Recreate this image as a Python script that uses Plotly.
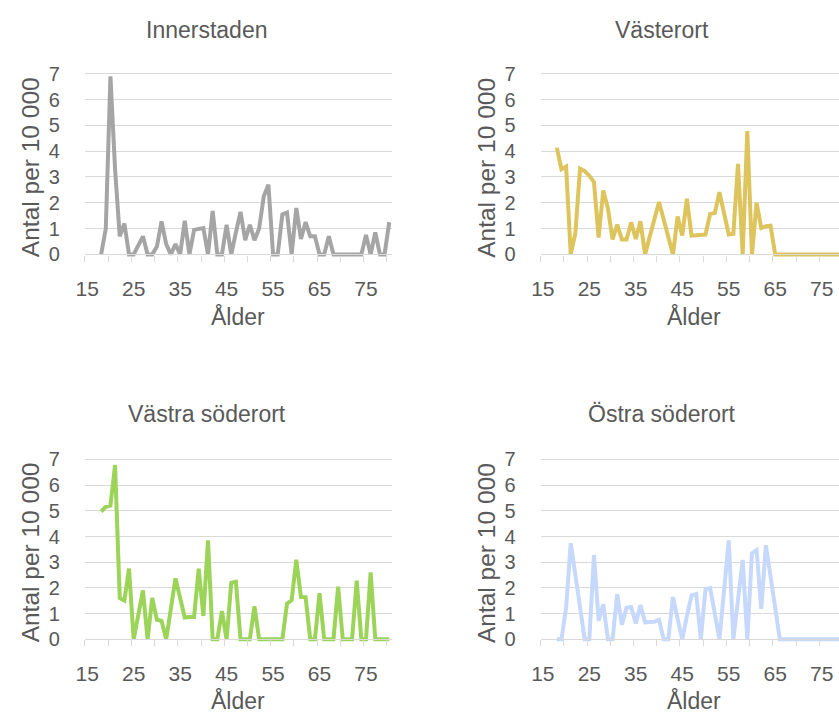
import plotly.graph_objects as go
from plotly.subplots import make_subplots

# ålder 18-80
ages = list(range(18, 81))

innerstaden = [0, 1.0, 6.9, 3.3, 0.7, 1.2, 0, 0, 0.35, 0.7,
               0, 0, 0.3, 1.28, 0.4, 0, 0.4, 0, 1.3, 0,
               0.95, 1.0, 1.02, 0, 1.68, 0, 0, 1.15, 0, 0.85,
               1.65, 0.55, 1.15, 0.55, 1.0, 2.25, 2.7, 0, 0, 1.55,
               1.62, 0, 1.8, 0.6, 1.25, 0.7, 0.7, 0, 0, 0.7,
               0, 0, 0, 0, 0, 0, 0, 0.75, 0, 0.85,
               0, 0, 1.25]

vasterort = [4.14, 3.3, 3.4, 0, 0.83, 3.32, 3.23, 3.05, 2.8, 0.65,
             2.48, 1.78, 0.58, 1.15, 0.58, 0.58, 1.24, 0.6, 1.28, 0,
             0.68, 1.35, 2.03, 1.35, 0.68, 0, 1.47, 0.73, 2.16, 0.73,
             0.74, 0.75, 0.77, 1.57, 1.6, 2.41, 1.6, 0.77, 0.8, 3.51,
             0, 4.78, 0, 2.0, 1.02, 1.09, 1.11, 0, 0, 0,
             0, 0, 0, 0, 0, 0, 0, 0, 0, 0,
             0, 0, 0]

vastra_soderort = [4.97, 5.16, 5.2, 6.78, 1.61, 1.51, 2.75, 0, 0.95, 1.9,
                   0, 1.61, 0.76, 0.72, 0, 1.2, 2.37, 1.61, 0.85, 0.87,
                   0.87, 2.75, 0.91, 3.85, 0, 0, 1.1, 0, 2.2, 2.24,
                   0, 0, 0, 1.29, 0, 0, 0, 0, 0, 0,
                   1.39, 1.52, 3.1, 1.65, 1.64, 0, 0, 1.79, 0, 0,
                   0, 2.05, 0, 0, 0, 2.28, 0, 0, 2.6, 0,
                   0, 0, 0]

ostra_soderort = [0, 0, 1.23, 3.74, 2.5, 1.25, 0, 0, 3.28, 0.72,
                  1.36, 0, 0, 1.76, 0.57, 1.23, 1.26, 0.62, 1.33, 0.66,
                  0.66, 0.68, 0.76, 0, 0, 1.65, 0.8, 0, 0.9, 1.71,
                  1.76, 0, 1.95, 1.99, 1.0, 0, 1.9, 3.85, 0, 1.5,
                  3.09, 0, 3.35, 3.47, 1.19, 3.66, 2.4, 1.2, 0, 0,
                  0, 0, 0, 0, 0, 0, 0, 0, 0, 0,
                  0, 0, 0]

titles = ['Innerstaden', 'Västerort', 'Västra söderort', 'Östra söderort']
series = [innerstaden, vasterort, vastra_soderort, ostra_soderort]
colors = ['#A5A5A5', '#DEC45C', '#9CD45A', '#C6D9FC']
x_labels = [15, 25, 35, 45, 55, 65, 75]

W, H = 839, 719
TXT = '#595959'
GRID = '#D9D9D9'
FONT = 'Liberation Sans, Arial, sans-serif'

px_year = 310 / 66
# (left px, zero px, seven px) per panel
panels = [(76.7, 252.0, 67.3), (537.3, 252.0, 67.3),
          (76.7, 645.7, 461.7), (537.3, 645.7, 461.7)]

fig = make_subplots(rows=2, cols=2)

for i, (name, vals, col) in enumerate(zip(titles, series, colors)):
    r, c = i // 2 + 1, i % 2 + 1
    fig.add_trace(go.Scatter(x=ages, y=vals, mode='lines', name=name,
                             line=dict(color=col, width=4),
                             showlegend=False), row=r, col=c)

    left, zero, seven = panels[i]
    unit = (zero - seven) / 7
    right = min(left + 310, W)
    x_end = 14.5 + (right - left) / px_year
    top_px = seven - 0.1 * unit
    bot_px = zero + 0.1 * unit

    fig.update_xaxes(domain=[left / W, right / W], range=[14.5, x_end],
                     anchor='free', position=1 - zero / H,
                     tickvals=x_labels, ticktext=[str(v) for v in x_labels],
                     ticks='outside', ticklen=15, tickcolor='rgba(0,0,0,0)',
                     tickfont=dict(size=21, color=TXT, family=FONT),
                     showgrid=False, zeroline=False,
                     showline=True, linecolor=GRID, linewidth=1.3,
                     minor=dict(tickvals=[14.5 + 5 * k for k in range(14)],
                                ticks='outside', ticklen=6, tickwidth=1.3,
                                tickcolor=GRID, showgrid=False),
                     row=r, col=c)
    fig.update_yaxes(domain=[1 - bot_px / H, 1 - top_px / H],
                     range=[-0.1, 7.1],
                     tickvals=list(range(8)),
                     ticks='outside', ticklen=20, tickcolor='rgba(0,0,0,0)',
                     tickfont=dict(size=20, color=TXT, family=FONT),
                     showgrid=True, gridcolor=GRID, gridwidth=1.3,
                     zeroline=False, showline=False,
                     row=r, col=c)

    top_row = i < 2
    fig.add_annotation(text=name, xref='paper', yref='paper',
                       x=(200 if c == 1 else 660) / W,
                       y=1 - (22.5 if top_row else 415) / H,
                       xanchor='center', yanchor='middle', showarrow=False,
                       font=dict(size=23, color=TXT, family=FONT))
    fig.add_annotation(text='Ålder', xref='paper', yref='paper',
                       x=(left + 155) / W,
                       y=1 - (316 if top_row else 708.5) / H,
                       xanchor='center', yanchor='middle', showarrow=False,
                       font=dict(size=23, color=TXT, family=FONT))
    fig.add_annotation(text='Antal per 10 000', xref='paper', yref='paper',
                       x=(22 if c == 1 else 22 + 460.6) / W,
                       y=1 - (163 if top_row else 557) / H,
                       textangle=-90,
                       xanchor='center', yanchor='middle', showarrow=False,
                       font=dict(size=24.5, color=TXT, family=FONT))

fig.update_layout(width=W, height=H,
                  margin=dict(l=0, r=0, t=0, b=0),
                  paper_bgcolor='white', plot_bgcolor='white',
                  font=dict(family=FONT, color=TXT))

fig.write_html("out.html", config={'displayModeBar': False},
               post_script="document.body.style.margin='0px';"
                           "document.body.style.overflow='hidden';")
